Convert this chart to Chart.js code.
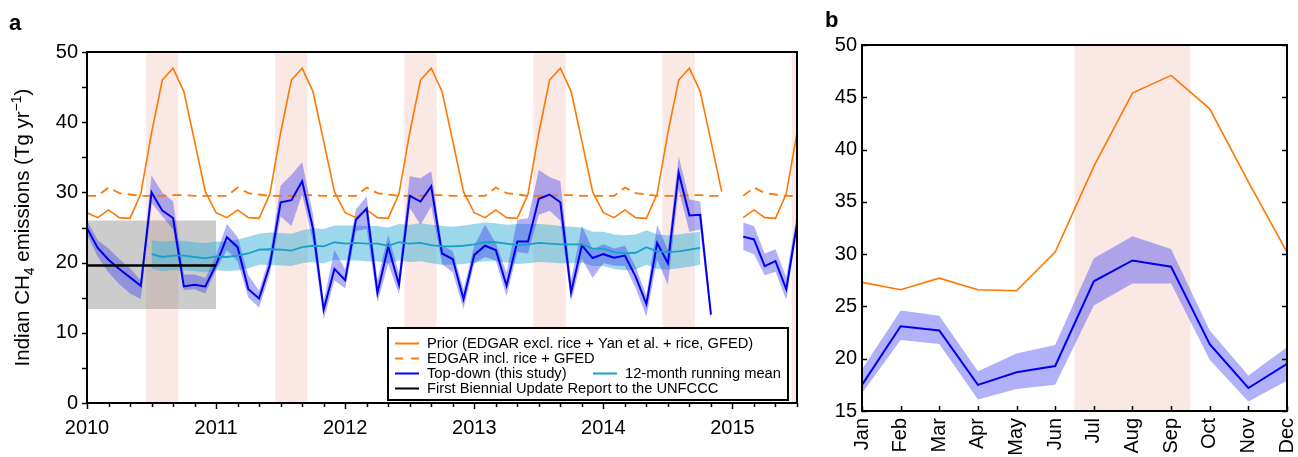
<!DOCTYPE html>
<html>
<head>
<meta charset="utf-8">
<script src="https://cdn.jsdelivr.net/npm/chart.js@4.4.0/dist/chart.umd.min.js"></script>
<style>
body { margin: 0; background: #fff; width: 1298px; height: 457px; overflow: hidden; position: relative; }
canvas { position: absolute; top: 0; }
#chartA { left: 0; }
#chartB { left: 812px; }
</style>
</head>
<body>
<canvas id="chartA" width="812" height="457"></canvas>
<canvas id="chartB" width="486" height="457"></canvas>
<script>
// ---- panel a : monthly series, Jan 2010 .. Jul 2015 (index 0..66) ----
var startYear = 2010;

var priorMonthly = [
    27.1, 26.4, 27.5, 26.4, 26.3, 29.8, 38.5, 46.0, 47.7, 44.4, 37.3, 30.1,
    27.1, 26.4, 27.5, 26.4, 26.3, 29.8, 38.5, 46.0, 47.7, 44.4, 37.3, 30.1,
    27.1, 26.4, 27.5, 26.4, 26.3, 29.8, 38.5, 46.0, 47.7, 44.4, 37.3, 30.1,
    27.1, 26.4, 27.5, 26.4, 26.3, 29.8, 38.5, 46.0, 47.7, 44.4, 37.3, 30.1,
    27.1, 26.4, 27.5, 26.4, 26.3, 29.8, 38.5, 46.0, 47.7, 44.4, 37.3, 30.1,
    null, 26.4, 27.5, 26.4, 26.3, 29.8, 38.5
];
var edgarMonthly = [
    29.5, 29.5, 30.7, 29.9, 29.7, 29.5, 29.5, 29.5, 29.6, 29.6, 29.5, 29.5,
    29.5, 29.5, 30.7, 29.9, 29.7, 29.5, 29.5, 29.5, 29.6, 29.6, 29.5, 29.5,
    29.5, 29.5, 30.7, 29.9, 29.7, 29.5, 29.5, 29.5, 29.6, 29.6, 29.5, 29.5,
    29.5, 29.5, 30.7, 29.9, 29.7, 29.5, 29.5, 29.5, 29.6, 29.6, 29.5, 29.5,
    29.5, 29.5, 30.7, 29.9, 29.7, 29.5, 29.5, 29.5, 29.6, 29.6, 29.5, 29.5,
    null, 29.5, 30.7, 29.9, 29.7, 29.5, 29.5
];
var topDown = [
    24.9, 22.1, 20.4, 19.1, 17.9, 16.7, 30.0, 27.4, 26.35, 16.6, 16.85, 16.6,
    19.7, 23.6, 22.2, 16.2, 14.9, 19.7, 28.6, 28.9, 31.6, 24.9, 13.3, 19.1,
    17.5, 26.1, 27.7, 15.7, 22.3, 16.85, 29.5, 28.7, 30.85, 21.3, 20.5, 14.8,
    21.1, 22.4, 21.8, 16.7, 23.0, 23.0, 29.1, 29.7, 28.6, 15.75, 22.45, 20.65,
    21.2, 20.7, 21.0, 18.0, 14.1, 22.8, 19.9, 32.8, 26.7, 26.8, 12.6, null,
    null, 23.7, 23.3, 19.5, 20.2, 16.2, 25.5
];
var topDownLow = [
    24.0, 20.8, 18.6, 16.9, 15.6, 14.8, 28.5, 26.6, 24.7, 16.1, 16.2, 15.6,
    19.0, 21.8, 20.2, 15.0, 13.6, 18.5, 26.6, 25.2, 29.7, 23.0, 11.9, 17.5,
    16.3, 24.5, 24.8, 14.3, 19.8, 15.5, 27.8, 25.4, 28.0, 19.8, 18.6, 13.4,
    19.9, 20.8, 20.3, 15.2, 21.5, 21.3, 26.8, 27.4, 26.0, 14.5, 20.5, 17.8,
    19.9, 19.6, 19.5, 16.4, 12.3, 20.4, 16.85, 30.4, 24.4, 24.7, 11.8, null,
    null, 21.8, 21.2, 18.2, 18.7, 14.7, 24.5
];
var topDownHigh = [
    26.0, 23.2, 22.0, 20.5, 19.2, 17.5, 32.4, 30.0, 28.7, 18.3, 18.3, 17.8,
    21.0, 25.5, 23.7, 18.2, 16.0, 21.0, 31.0, 32.5, 34.3, 27.0, 14.5, 21.8,
    19.0, 27.6, 29.4, 17.5, 24.0, 18.5, 32.3, 32.0, 33.0, 22.5, 21.6, 16.2,
    22.4, 25.4, 22.8, 18.6, 26.1, 26.3, 33.2, 32.2, 31.6, 17.5, 25.2, 21.9,
    22.6, 22.0, 22.4, 19.4, 15.3, 25.4, 21.8, 35.1, 29.0, 28.7, 13.5, null,
    null, 25.7, 25.2, 21.3, 21.9, 17.9, 27.0
];
var runningMean = [
    null, null, null, null, null, null, 21.2, 20.8, 21.0, 21.0, 20.8, 20.6,
    20.9, 20.8, 21.0, 21.3, 21.85, 21.9, 21.85, 21.7, 22.2, 22.4, 22.3, 22.9,
    22.7, 22.8, 22.7, 22.7, 22.4, 22.9, 22.7, 22.8, 22.5, 22.3, 22.3, 22.4,
    22.6, 22.9, 22.9, 22.7, 22.5, 22.6, 22.8, 22.7, 22.6, 22.6, 22.6, 22.0,
    22.0, 21.5, 21.3, 21.4, 22.2, 21.6, 21.5, 21.6, 21.85, 22.1, null, null,
    null, null, null, null, null, null, null
];
var runningHigh = [
    null, null, null, null, null, null, 23.2, 23.0, 23.1, 23.1, 22.9, 22.8,
    23.0, 23.0, 23.3, 23.7, 24.1, 24.3, 24.2, 24.1, 24.6, 24.9, 24.8, 25.3,
    25.3, 25.3, 25.2, 25.2, 25.0, 25.5, 25.4, 25.6, 25.4, 25.2, 25.1, 25.3,
    25.5, 25.7, 25.6, 25.4, 25.5, 25.5, 25.5, 25.4, 25.2, 25.1, 25.0, 24.4,
    24.4, 24.0, 23.9, 24.0, 24.6, 24.0, 23.9, 24.0, 24.2, 24.4, null, null,
    null, null, null, null, null, null, null
];
var runningLow = [
    null, null, null, null, null, null, 19.1, 18.8, 18.9, 18.9, 18.8, 18.6,
    18.9, 18.8, 18.9, 19.2, 19.7, 19.7, 19.6, 19.5, 19.9, 20.1, 19.9, 20.4,
    20.3, 20.3, 20.2, 20.2, 19.9, 20.3, 20.1, 20.2, 19.9, 19.7, 19.7, 19.8,
    20.0, 20.2, 20.2, 20.0, 19.8, 19.9, 20.1, 20.0, 19.9, 19.9, 20.0, 19.5,
    19.5, 19.1, 18.9, 19.0, 19.7, 19.1, 19.0, 19.2, 19.4, 19.7, null, null,
    null, null, null, null, null, null, null
];
// first biennial update report: value and uncertainty range over 2010
var burYears = [2010, 2011.0];
var burValue = 19.6;
var burRange = [13.4, 26.0];
// monsoon shading (decimal years)
var monsoonStart = [2010.458, 2011.458, 2012.458, 2013.458, 2014.458, 2015.458];
var monsoonEnd = [2010.708, 2011.708, 2012.708, 2013.708, 2014.708, 2015.708];

// ---- panel b : mean seasonal cycle ----
var monthLabels = ['Jan', 'Feb', 'Mar', 'Apr', 'May', 'Jun', 'Jul', 'Aug', 'Sep', 'Oct', 'Nov', 'Dec'];
var priorClim = [27.3, 26.6, 27.7, 26.6, 26.5, 30.2, 38.4, 45.4, 47.1, 43.9, 36.9, 30.2];
var topDownClim = [17.5, 23.1, 22.7, 17.5, 18.7, 19.3, 27.4, 29.4, 28.8, 21.4, 17.2, 19.5];
var topDownClimHigh = [19.0, 24.6, 24.1, 18.8, 20.5, 21.3, 29.6, 31.7, 30.5, 22.7, 18.4, 21.1];
var topDownClimLow = [16.7, 21.8, 21.4, 16.1, 17.1, 17.5, 25.1, 27.2, 27.2, 19.9, 15.9, 17.9];
var monsoonClim = [5.5, 8.5];

var FONT = '"Liberation Sans", Arial, Helvetica, sans-serif';
var ORANGE = '#ff7700';
var BLUE = '#0000f0';
var BLUE_BAND = 'rgba(60,60,240,0.4)';
var CYAN = '#18a0c8';
var CYAN_BAND = 'rgba(60,175,215,0.5)';
var PINK = 'rgba(240,180,170,0.3)';

function monthSeries(values) {
    var pts = [];
    for (var i = 0; i < values.length; i++) {
        pts.push({x: startYear + i / 12, y: values[i]});
    }
    return pts;
}

function lineSet(data, color, width, order, extra) {
    var ds = {
        data: data, borderColor: color, borderWidth: width, pointRadius: 0,
        fill: false, tension: 0, spanGaps: false, order: order
    };
    for (var k in extra) ds[k] = extra[k];
    return ds;
}

function drawFrame(ctx, a) {
    ctx.save();
    ctx.strokeStyle = '#000';
    ctx.lineWidth = 2;
    ctx.strokeRect(a.left, a.top, a.right - a.left, a.bottom - a.top);
    ctx.restore();
}

// keep the plot area exactly where the layout padding puts it
function noEdgePadding(scale) {
    scale.paddingLeft = 0;
    scale.paddingRight = 0;
    scale.paddingTop = 0;
    scale.paddingBottom = 0;
}

var panelA = {
    id: 'panelA',
    beforeDatasetsDraw: function(chart) {
        var ctx = chart.ctx, a = chart.chartArea, xs = chart.scales.x;
        ctx.save();
        ctx.beginPath();
        ctx.rect(a.left, a.top, a.right - a.left, a.bottom - a.top);
        ctx.clip();
        ctx.fillStyle = PINK;
        for (var k = 0; k < monsoonStart.length; k++) {
            var x0 = xs.getPixelForValue(monsoonStart[k]);
            var x1 = xs.getPixelForValue(monsoonEnd[k]);
            ctx.fillRect(x0, a.top, x1 - x0, a.bottom - a.top);
        }
        ctx.restore();
    },
    afterDraw: function(chart) {
        var ctx = chart.ctx, a = chart.chartArea, xs = chart.scales.x, ys = chart.scales.y;
        drawFrame(ctx, a);
        ctx.save();
        ctx.strokeStyle = '#000';
        ctx.lineWidth = 1.5;
        // outward tick marks
        xs.ticks.forEach(function(t) {
            var x = Math.round(xs.getPixelForValue(t.value)) + 0.5;
            var major = Math.abs(t.value - Math.round(t.value)) < 1e-6;
            ctx.beginPath();
            ctx.moveTo(x, a.bottom);
            ctx.lineTo(x, a.bottom + (major ? 6 : 4));
            ctx.stroke();
        });
        ys.ticks.forEach(function(t) {
            var y = Math.round(ys.getPixelForValue(t.value)) + 0.5;
            ctx.beginPath();
            ctx.moveTo(a.left, y);
            ctx.lineTo(a.left - 5, y);
            ctx.stroke();
        });
        // y axis title with sub/superscript
        var parts = [['Indian CH', 20.5, 0], ['4', 14, 5], [' emissions (Tg yr', 20.5, 0], ['\u22121', 14, -8], [')', 20.5, 0]];
        var total = 0;
        parts.forEach(function(p) { ctx.font = p[1] + 'px ' + FONT; total += ctx.measureText(p[0]).width; });
        ctx.translate(22, (a.top + a.bottom) / 2);
        ctx.rotate(-Math.PI / 2);
        ctx.fillStyle = '#000';
        ctx.textBaseline = 'alphabetic';
        var px = -total / 2;
        parts.forEach(function(p) {
            ctx.font = p[1] + 'px ' + FONT;
            ctx.fillText(p[0], px, 7 + p[2]);
            px += ctx.measureText(p[0]).width;
        });
        ctx.restore();

        // legend box
        ctx.save();
        var lx = 388, ly = 328, lw = 400, lh = 72;
        ctx.fillStyle = '#fff';
        ctx.fillRect(lx, ly, lw, lh);
        ctx.strokeStyle = '#000';
        ctx.lineWidth = 2;
        ctx.strokeRect(lx, ly, lw, lh);
        var rows = [343.5, 358.5, 373.5, 388.5];
        function sample(x, y, color, dash) {
            ctx.save();
            ctx.strokeStyle = color;
            ctx.lineWidth = 2;
            ctx.setLineDash(dash || []);
            ctx.beginPath();
            ctx.moveTo(x, y);
            ctx.lineTo(x + 24, y);
            ctx.stroke();
            ctx.restore();
        }
        ctx.font = '14.7px ' + FONT;
        ctx.fillStyle = '#000';
        ctx.textBaseline = 'middle';
        sample(395, rows[0], ORANGE);
        ctx.fillText('Prior (EDGAR excl. rice + Yan et al. + rice, GFED)', 427, rows[0]);
        sample(395, rows[1], ORANGE, [8, 8]);
        ctx.fillText('EDGAR incl. rice + GFED', 427, rows[1]);
        sample(395, rows[2], BLUE);
        ctx.fillText('Top-down (this study)', 427, rows[2]);
        sample(593, rows[2], CYAN);
        ctx.fillText('12-month running mean', 625, rows[2]);
        sample(395, rows[3], '#000');
        ctx.fillText('First Biennial Update Report to the UNFCCC', 427, rows[3]);
        // panel letter
        ctx.font = 'bold 22px ' + FONT;
        ctx.textBaseline = 'alphabetic';
        ctx.fillText('a', 9, 30);
        ctx.restore();
    }
};

var panelB = {
    id: 'panelB',
    beforeDatasetsDraw: function(chart) {
        var ctx = chart.ctx, a = chart.chartArea, xs = chart.scales.x;
        ctx.save();
        ctx.fillStyle = PINK;
        var x0 = xs.getPixelForValue(monsoonClim[0]);
        var x1 = xs.getPixelForValue(monsoonClim[1]);
        ctx.fillRect(x0, a.top, x1 - x0, a.bottom - a.top);
        ctx.restore();
    },
    afterDraw: function(chart) {
        var ctx = chart.ctx, a = chart.chartArea, xs = chart.scales.x, ys = chart.scales.y;
        drawFrame(ctx, a);
        ctx.save();
        ctx.strokeStyle = '#000';
        ctx.lineWidth = 1.5;
        xs.ticks.forEach(function(t) {
            var x = Math.round(xs.getPixelForValue(t.value)) + 0.5;
            ctx.beginPath();
            ctx.moveTo(x, a.bottom);
            ctx.lineTo(x, a.bottom - 5);
            ctx.stroke();
        });
        ys.ticks.forEach(function(t) {
            var y = Math.round(ys.getPixelForValue(t.value)) + 0.5;
            ctx.beginPath();
            ctx.moveTo(a.left, y);
            ctx.lineTo(a.left + 5, y);
            ctx.moveTo(a.right, y);
            ctx.lineTo(a.right - 5, y);
            ctx.stroke();
        });
        ctx.fillStyle = '#000';
        ctx.font = 'bold 22px ' + FONT;
        ctx.fillText('b', 13, 27);
        ctx.restore();
    }
};

var tickFont = {family: FONT, size: 20};

new Chart(document.getElementById('chartA').getContext('2d'), {
    type: 'line',
    data: {
        datasets: [
            lineSet([{x: burYears[0], y: burValue}, {x: burYears[1], y: burValue}], '#000', 2.5, 0),
            lineSet(monthSeries(runningMean), CYAN, 1.8, 1),
            lineSet(monthSeries(topDown), BLUE, 2, 2),
            lineSet(monthSeries(priorMonthly), ORANGE, 1.6, 3),
            lineSet(monthSeries(edgarMonthly), ORANGE, 1.8, 4, {borderDash: [9, 6]}),
            lineSet(monthSeries(topDownHigh), 'rgba(0,0,0,0)', 0, 5, {fill: '+1', backgroundColor: BLUE_BAND}),
            lineSet(monthSeries(topDownLow), 'rgba(0,0,0,0)', 0, 6),
            lineSet(monthSeries(runningHigh), 'rgba(0,0,0,0)', 0, 7, {fill: '+1', backgroundColor: CYAN_BAND}),
            lineSet(monthSeries(runningLow), 'rgba(0,0,0,0)', 0, 8),
            lineSet([{x: burYears[0], y: burRange[1]}, {x: burYears[1], y: burRange[1]}], 'rgba(0,0,0,0)', 0, 9,
                    {fill: '+1', backgroundColor: 'rgba(128,128,128,0.4)'}),
            lineSet([{x: burYears[0], y: burRange[0]}, {x: burYears[1], y: burRange[0]}], 'rgba(0,0,0,0)', 0, 10)
        ]
    },
    options: {
        responsive: false,
        animation: false,
        devicePixelRatio: 1,
        events: [],
        layout: {padding: {left: 0, right: 15, top: 52, bottom: 0}},
        plugins: {legend: {display: false}, tooltip: {enabled: false}},
        scales: {
            x: {
                type: 'linear', min: 2010, max: 2015.5,
                grid: {display: false, drawTicks: false},
                border: {display: false},
                afterBuildTicks: function(scale) {
                    var t = [];
                    for (var k = 0; k <= 33; k++) t.push({value: 2010 + k / 6});
                    scale.ticks = t;
                },
                afterFit: function(scale) { scale.height = 54; noEdgePadding(scale); },
                ticks: {
                    autoSkip: false, maxRotation: 0, padding: 13, color: '#000', font: tickFont,
                    callback: function(v) {
                        return Math.abs(v - Math.round(v)) < 1e-6 ? String(Math.round(v)) : '';
                    }
                }
            },
            y: {
                min: 0, max: 50,
                grid: {display: false, drawTicks: false},
                border: {display: false},
                afterFit: function(scale) { scale.width = 87; noEdgePadding(scale); },
                ticks: {
                    stepSize: 5, padding: 9, color: '#000', font: tickFont,
                    callback: function(v) { return v % 10 === 0 ? String(v) : ''; }
                }
            }
        }
    },
    plugins: [panelA]
});

function indexSeries(values) {
    return values.map(function(v, i) { return {x: i, y: v}; });
}

new Chart(document.getElementById('chartB').getContext('2d'), {
    type: 'line',
    data: {
        datasets: [
            lineSet(indexSeries(topDownClim), BLUE, 2, 0),
            lineSet(indexSeries(priorClim), ORANGE, 1.6, 1),
            lineSet(indexSeries(topDownClimHigh), 'rgba(0,0,0,0)', 0, 2, {fill: '+1', backgroundColor: BLUE_BAND}),
            lineSet(indexSeries(topDownClimLow), 'rgba(0,0,0,0)', 0, 3)
        ]
    },
    options: {
        responsive: false,
        animation: false,
        devicePixelRatio: 1,
        events: [],
        layout: {padding: {left: 0, right: 11, top: 45, bottom: 0}},
        plugins: {legend: {display: false}, tooltip: {enabled: false}},
        scales: {
            x: {
                type: 'linear', min: 0, max: 11,
                grid: {display: false, drawTicks: false},
                border: {display: false},
                afterFit: function(scale) { scale.height = 46; noEdgePadding(scale); },
                ticks: {
                    stepSize: 1, autoSkip: false, minRotation: 90, maxRotation: 90, padding: 7,
                    color: '#000', font: tickFont,
                    callback: function(v) { return monthLabels[v]; }
                }
            },
            y: {
                min: 15, max: 50,
                grid: {display: false, drawTicks: false},
                border: {display: false},
                afterFit: function(scale) { scale.width = 50; noEdgePadding(scale); },
                ticks: {stepSize: 5, padding: 5, color: '#000', font: tickFont}
            }
        }
    },
    plugins: [panelB]
});
</script>
</body>
</html>
